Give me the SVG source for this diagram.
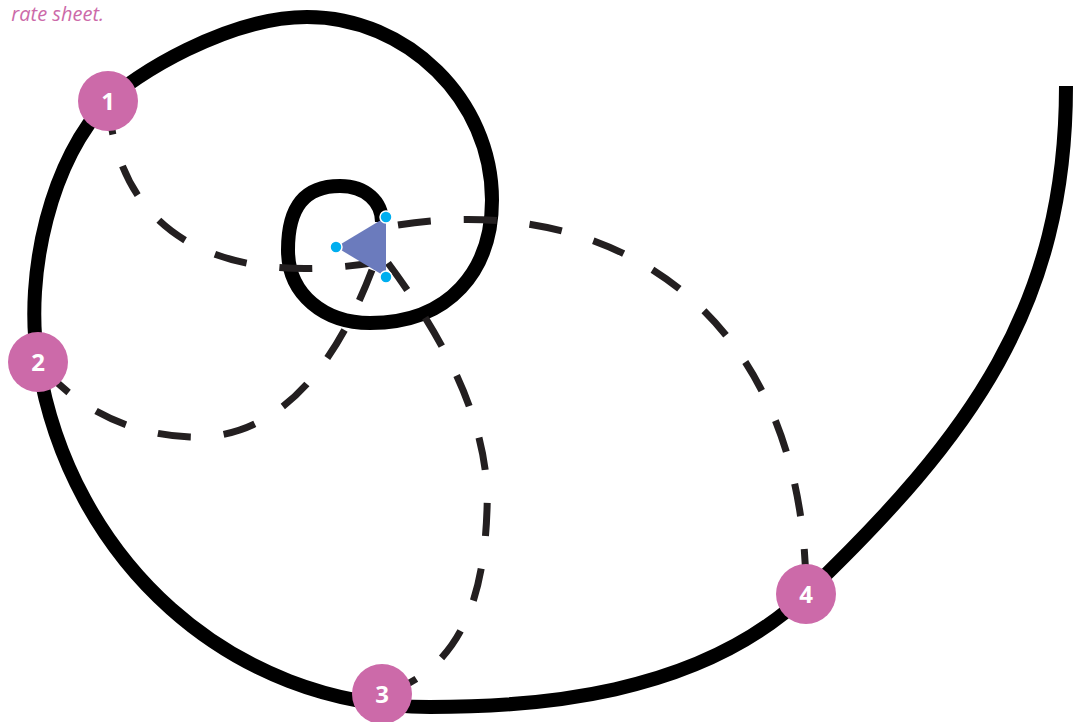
<svg xmlns="http://www.w3.org/2000/svg" width="1082" height="722" viewBox="0 0 1082 722">
<style>
.spiral{fill:none;stroke:#000;stroke-width:14;stroke-linecap:butt}
.conn{fill:none;stroke:#231f20;stroke-width:7;stroke-dasharray:33 33;stroke-linecap:butt}
.badge{fill:#cc6aa9}
.num{fill:#fff;font-family:"Open Sans","Noto Sans",sans-serif;font-weight:bold;font-size:24px;text-anchor:middle}
.dot{fill:#00aeef;stroke:#fff;stroke-width:1.5}
.note{fill:#cc6aa9;font-family:"Open Sans","Noto Sans",sans-serif;font-style:italic;font-size:20px;text-anchor:end}
</style>
<rect width="1082" height="722" fill="#fff"/>
<text class="note" x="104" y="21">rate sheet.</text>
<path id="spiral" class="spiral" d="M1066,86 C1066,306 971.6,435.3 806,594 C698,697.5 530,707 430,707 C230,707 70,560 38,362 C23.6,273 52,157 108,101 C132.5,76.5 227,17 307,17 C407,17 492,100 492,200 C492,270 450,323 370,323 C325,323 288,295 288,250 C288,208 304,186 340,186 C366,186 382,202 382,222"/>
<g id="connectors">
<path class="conn" d="M378,262 C240,285 120,250 108,101"/>
<path class="conn" d="M372,270 C330,380 270,440 190,437 C110,434 60,390 38,362"/>
<path class="conn" d="M388,263 C460,360 490,440 487,510 C484,600 460,670 383,694"/>
<path class="conn" d="M398,225 C620,190 806,320 806,594"/>
</g>
<g id="center">
<polygon points="336,247 386,217 386,277" fill="#6b7bbd"/>
<circle class="dot" cx="386" cy="217" r="6"/>
<circle class="dot" cx="336" cy="247" r="6"/>
<circle class="dot" cx="386" cy="277" r="6"/>
</g>
<g id="node1"><circle class="badge" cx="108" cy="101" r="30"/><text class="num" x="108" y="110">1</text></g>
<g id="node2"><circle class="badge" cx="38" cy="362" r="30"/><text class="num" x="38" y="371">2</text></g>
<g id="node3"><circle class="badge" cx="382" cy="694" r="30"/><text class="num" x="382" y="703">3</text></g>
<g id="node4"><circle class="badge" cx="806" cy="594" r="30"/><text class="num" x="806" y="603">4</text></g>
</svg>
